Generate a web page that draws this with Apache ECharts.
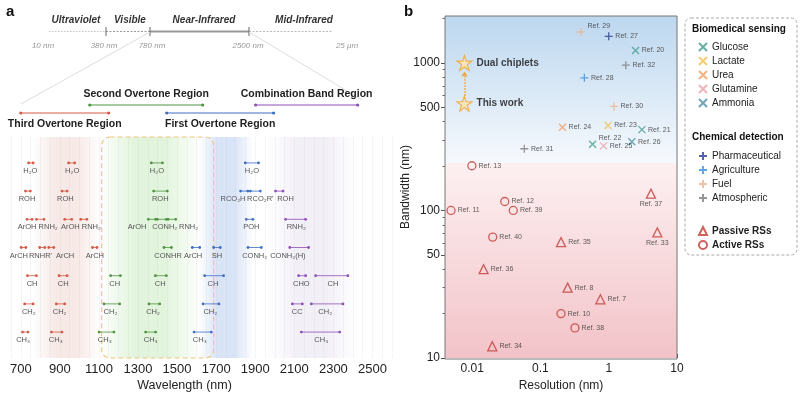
<!DOCTYPE html>
<html>
<head>
<meta charset="utf-8">
<script src="https://cdn.jsdelivr.net/npm/echarts@6/dist/echarts.min.js"></script>
<style>
  html, body { margin: 0; padding: 0; background: #fff; }
  #main { width: 800px; height: 397px; }
</style>
</head>
<body>
<div id="main"></div>
<script>
// ---------- panel a : NIR absorption regions ----------
var waveTicks = [700, 900, 1100, 1300, 1500, 1700, 1900, 2100, 2300, 2500];
var regionNames = ['Third Overtone Region', 'Second Overtone Region', 'First Overtone Region', 'Combination Band Region'];
var regionStart = [700, 1053, 1447, 1902];
var regionEnd = [1150, 1631, 1994, 2424];
var nirWindow = [1114, 1687]; // dashed box

// bonds: [label, row, start nm, end nm, label centre nm]
var thirdOvertone = [
  ['H₂O', 0, 740, 763, 749], ['H₂O', 0, 945, 976, 963],
  ['ROH', 1, 724, 749, 732], ['ROH', 1, 911, 937, 928],
  ['ArOH', 2, 732, 758, 732], ['RNH₂', 2, 780, 819, 840], ['ArOH', 2, 925, 961, 954], ['RNH₂', 2, 1007, 1038, 1061],
  ['ArCH', 3, 702, 726, 690], ['RNHR\'', 3, 797, 823, 801], ['ArCH', 3, 843, 869, 927], ['ArCH', 3, 1067, 1090, 1079],
  ['CH', 4, 734, 780, 758], ['CH', 4, 896, 937, 917],
  ['CH₂', 5, 720, 763, 741], ['CH₂', 5, 882, 925, 899],
  ['CH₃', 6, 709, 737, 712], ['CH₃', 6, 857, 911, 879]
];
var secondOvertone = [
  ['H₂O', 0, 1368, 1425, 1397],
  ['ROH', 1, 1380, 1450, 1414],
  ['ArOH', 2, 1353, 1390, 1295], ['CONH₂', 2, 1399, 1445, 1437], ['RNH₂', 2, 1454, 1493, 1559],
  ['CONHR', 3, 1433, 1471, 1454],
  ['CH', 4, 1160, 1210, 1181], ['CH', 4, 1389, 1445, 1414],
  ['CH₂', 5, 1126, 1206, 1159], ['CH₂', 5, 1356, 1411, 1377],
  ['CH₃', 6, 1101, 1177, 1130], ['CH₃', 6, 1339, 1390, 1365]
];
var firstOvertone = [
  ['H₂O', 0, 1849, 1917, 1883],
  ['RCO₂H', 1, 1825, 1862, 1786], ['RCO₂R\'', 1, 1875, 1926, 1926],
  ['POH', 2, 1854, 1888, 1880],
  ['ArCH', 3, 1578, 1616, 1582], ['SH', 3, 1687, 1721, 1704], ['CONH₂', 3, 1863, 1931, 1897],
  ['CH', 4, 1641, 1738, 1684],
  ['CH₂', 5, 1633, 1714, 1670],
  ['CH₃', 6, 1587, 1675, 1616]
];
var combinationBand = [
  ['ROH', 1, 2004, 2042, 2055],
  ['RNH₂', 2, 2055, 2158, 2110],
  ['CONH₂(H)', 3, 2077, 2173, 2067],
  ['CHO', 4, 2122, 2158, 2136], ['CH', 4, 2209, 2374, 2298],
  ['CC', 5, 2090, 2141, 2115], ['CH₂', 5, 2187, 2349, 2258],
  ['CH₃', 6, 2136, 2332, 2238]
];

// ---------- panel b : bandwidth vs resolution ----------
// [resolution nm, bandwidth nm, label]
var glucose = [[2.47, 1213, 'Ref. 20'], [3.06, 353, 'Ref. 21'], [0.58, 281, 'Ref. 22']];
var lactate = [[0.98, 377, 'Ref. 23']];
var urea = [[0.21, 366, 'Ref. 24']];
var glutamine = [[0.84, 274, 'Ref. 25']];
var ammonia = [[2.18, 292, 'Ref. 26']];
var pharmaceutical = [[1.0, 1515, 'Ref. 27']];
var agriculture = [[0.44, 792, 'Ref. 28']];
var fuel = [[0.39, 1620, 'Ref. 29'], [1.19, 507, 'Ref. 30']];
var atmospheric = [[0.058, 262, 'Ref. 31'], [1.78, 965, 'Ref. 32']];
var passiveRS = [[4.15, 130, 'Ref. 37'], [0.20, 61, 'Ref. 35'], [5.15, 71, 'Ref. 33'], [0.0147, 40, 'Ref. 36'],
                 [0.25, 30, 'Ref. 8'], [0.755, 25, 'Ref. 7'], [0.0197, 12, 'Ref. 34']];
var activeRS = [[0.0099, 201, 'Ref. 13'], [0.030, 115, 'Ref. 12'], [0.0049, 100, 'Ref. 11'], [0.040, 100, 'Ref. 39'],
                [0.020, 66, 'Ref. 40'], [0.20, 20, 'Ref. 10'], [0.32, 16, 'Ref. 38']];
var thisWork = [[0.0077, 530, 'This work'], [0.0077, 1000, 'Dual chiplets']];
var resTicks = [0.01, 0.1, 1, 10];
var resMinor = [0.005, 0.006, 0.007, 0.008, 0.009, 0.02, 0.03, 0.04, 0.05, 0.06, 0.07, 0.08, 0.09,
                0.2, 0.3, 0.4, 0.5, 0.6, 0.7, 0.8, 0.9, 2, 3, 4, 5, 6, 7, 8, 9];
var bwTicks = [10, 50, 100, 500, 1000];
var bwMinor = [20, 30, 40, 60, 70, 80, 90, 200, 300, 400, 600, 700, 800, 900, 2000];
var rsBoundary = 210;

var FONT = '"Liberation Sans", Arial, Helvetica, sans-serif';
var regionColors = ['#d45a45', '#4f9440', '#3f6fc4', '#8c4fb6'];
var labelBelow = ['Ref. 37', 'Ref. 33'];
var labelAbove = ['Ref. 29', 'Ref. 22'];
var crossPath = 'path://M0,0L10,10M10,0L0,10';
var plusPath = 'path://M5,0L5,10M0,5L10,5';
var starPath = 'path://M50,2L61,36L97,36L68,57L79,92L50,71L21,92L32,57L3,36L39,36Z';

var chart = echarts.init(document.getElementById('main'));

var bondList = [];
[thirdOvertone, secondOvertone, firstOvertone, combinationBand].forEach(function (arr, r) {
  arr.forEach(function (b) { bondList.push({ name: b[0], value: [b[2], b[3], b[1], b[4], r] }); });
});

function renderBond(params, api) {
  var row = api.value(2);
  var p1 = api.coord([api.value(0), row]);
  var p2 = api.coord([api.value(1), row]);
  var pl = api.coord([api.value(3), row]);
  var c = regionColors[api.value(4)];
  return {
    type: 'group',
    children: [
      { type: 'line', shape: { x1: p1[0], y1: p1[1], x2: p2[0], y2: p2[1] }, style: { stroke: c, lineWidth: 0.8 } },
      { type: 'circle', shape: { cx: p1[0], cy: p1[1], r: 1.4 }, style: { fill: c } },
      { type: 'circle', shape: { cx: p2[0], cy: p2[1], r: 1.4 }, style: { fill: c } },
      { type: 'text', style: { text: bondList[params.dataIndex].name, x: pl[0], y: pl[1] + 8,
        align: 'center', verticalAlign: 'middle', font: '7.5px ' + FONT, fill: '#555' } }
    ]
  };
}

function renderRegion(params, api) {
  var i = params.dataIndex;
  var upper = i % 2 === 1;
  var y = params.coordSys.y + (upper ? -32 : -24);
  var x1 = api.coord([api.value(0), 0])[0];
  var x2 = api.coord([api.value(1), 0])[0];
  var c = regionColors[i];
  return {
    type: 'group',
    children: [
      { type: 'line', shape: { x1: x1, y1: y, x2: x2, y2: y }, style: { stroke: c, lineWidth: 1 } },
      { type: 'circle', shape: { cx: x1, cy: y, r: 1.6 }, style: { fill: c } },
      { type: 'circle', shape: { cx: x2, cy: y, r: 1.6 }, style: { fill: c } },
      { type: 'text', style: { text: regionNames[i], x: (x1 + x2) / 2, y: upper ? y - 11 : y + 11,
        align: 'center', verticalAlign: 'middle', font: 'bold 10.5px ' + FONT, fill: '#222' } }
    ]
  };
}

function renderBox(params, api) {
  var x1 = api.coord([api.value(0), 0])[0];
  var x2 = api.coord([api.value(1), 0])[0];
  var cs = params.coordSys;
  return {
    type: 'rect',
    shape: { x: x1, y: cs.y, width: x2 - x1, height: cs.height, r: 8 },
    style: { fill: 'none', stroke: '#f2c67c', lineWidth: 1.2, lineDash: [5, 3] }
  };
}

function band(from, to, rgb, a) {
  return [{
    xAxis: from,
    itemStyle: {
      color: new echarts.graphic.LinearGradient(0, 0, 1, 0, [
        { offset: 0, color: 'rgba(' + rgb + ',0)' },
        { offset: 0.35, color: 'rgba(' + rgb + ',' + a + ')' },
        { offset: 0.65, color: 'rgba(' + rgb + ',' + a + ')' },
        { offset: 1, color: 'rgba(' + rgb + ',0)' }
      ])
    }
  }, { xAxis: to }];
}

function pts(list) {
  return list.map(function (p) {
    var item = { value: [p[0], p[1]], name: p[2] };
    if (labelBelow.indexOf(p[2]) >= 0) item.label = { position: 'bottom', distance: 2 };
    if (labelAbove.indexOf(p[2]) >= 0) item.label = { position: 'right', offset: [0, -6] };
    return item;
  });
}

function markSeries(name, data, symbol, color, size, hollow) {
  return {
    name: name, type: 'scatter', xAxisIndex: 1, yAxisIndex: 1, z: 5,
    data: pts(data), symbol: symbol, symbolSize: size,
    itemStyle: { color: hollow ? 'rgba(255,255,255,0)' : color, borderColor: color, borderWidth: 1.3 },
    label: { show: true, position: 'right', distance: 2, formatter: '{b}', fontSize: 7, color: '#333', fontFamily: FONT },
    emphasis: { disabled: true }
  };
}

function plainNum(v) { return String(+Number(v).toPrecision(3)); }

var legendText = { fontSize: 10, color: '#222', fontFamily: FONT };
var blueFade = new echarts.graphic.LinearGradient(0, 0, 0, 1, [
  { offset: 0, color: '#bcd7ef' }, { offset: 1, color: '#f6f9fd' }]);
var pinkFade = new echarts.graphic.LinearGradient(0, 0, 0, 1, [
  { offset: 0, color: '#fdf0f1' }, { offset: 1, color: '#f2c3c8' }]);

var option = {
  animation: false,
  textStyle: { fontFamily: FONT },
  grid: [
    { left: 11, top: 137, width: 381, height: 221 },
    { left: 445, top: 16, width: 232, height: 343 }
  ],
  xAxis: [
    {
      gridIndex: 0, type: 'value', min: 650, max: 2600, interval: 50,
      axisLine: { show: false }, axisTick: { show: false },
      splitLine: { show: true, lineStyle: { color: 'rgba(0,0,0,0.08)', type: 'dotted' } },
      axisLabel: { customValues: waveTicks, fontSize: 13, color: '#222', margin: 5, formatter: plainNum },
      name: 'Wavelength (nm)', nameLocation: 'middle', nameGap: 21, nameMoveOverlap: false,
      nameTextStyle: { fontSize: 12.5, color: '#222', padding: [0, 34, 0, 0] }
    },
    {
      gridIndex: 1, type: 'log', logBase: 10, min: 0.004, max: 10,
      axisLine: { show: false }, splitLine: { show: false },
      axisTick: { inside: true, length: 4, customValues: resTicks, lineStyle: { color: '#555' } },
      axisLabel: { customValues: resTicks, fontSize: 12, color: '#222', margin: 5, formatter: plainNum },
      name: 'Resolution (nm)', nameLocation: 'middle', nameGap: 22, nameMoveOverlap: false,
      nameTextStyle: { fontSize: 12, color: '#222' }
    },
    {
      gridIndex: 1, type: 'log', logBase: 10, min: 0.004, max: 10, position: 'bottom',
      axisLine: { show: false }, splitLine: { show: false }, axisLabel: { show: false },
      axisTick: { inside: true, length: 2.5, customValues: resMinor, lineStyle: { color: '#666' } }
    }
  ],
  yAxis: [
    { gridIndex: 0, type: 'value', min: -0.92, max: 6.92, inverse: true, show: false },
    {
      gridIndex: 1, type: 'log', logBase: 10, min: 10, max: 2080,
      axisLine: { show: false }, splitLine: { show: false },
      axisTick: { length: 4, customValues: bwTicks, lineStyle: { color: '#555' } },
      axisLabel: { customValues: bwTicks, fontSize: 12, color: '#222', margin: 5, formatter: plainNum },
      name: 'Bandwidth (nm)', nameLocation: 'middle', nameGap: 33, nameMoveOverlap: false,
      nameTextStyle: { fontSize: 12, color: '#222' }
    },
    {
      gridIndex: 1, type: 'log', logBase: 10, min: 10, max: 2080, position: 'left',
      axisLine: { show: false }, splitLine: { show: false }, axisLabel: { show: false },
      axisTick: { length: 2.5, customValues: bwMinor, lineStyle: { color: '#666' } }
    }
  ],
  legend: [
    {
      left: 693, top: 37, orient: 'vertical', itemGap: 4, itemWidth: 8, itemHeight: 8,
      selectedMode: false, textStyle: legendText,
      data: ['Glucose', 'Lactate', 'Urea', 'Glutamine', 'Ammonia']
    },
    {
      left: 693, top: 146, orient: 'vertical', itemGap: 4, itemWidth: 8, itemHeight: 8,
      selectedMode: false, textStyle: legendText,
      data: ['Pharmaceutical', 'Agriculture', 'Fuel', 'Atmospheric']
    },
    {
      left: 693, top: 221, orient: 'vertical', itemGap: 4, itemWidth: 8, itemHeight: 8,
      selectedMode: false, textStyle: { fontSize: 10, color: '#222', fontWeight: 'bold', fontFamily: FONT },
      data: ['Passive RSs', 'Active RSs']
    }
  ],
  series: [
    {
      type: 'line', xAxisIndex: 0, yAxisIndex: 0, data: [], z: 1, silent: true,
      markArea: {
        silent: true,
        data: [
          band(760, 1110, '222,170,160', 0.26),
          band(1100, 1620, '175,225,160', 0.36),
          band(1610, 1890, '165,190,235', 0.42),
          band(1960, 2420, '205,195,225', 0.26)
        ]
      }
    },
    {
      type: 'custom', xAxisIndex: 0, yAxisIndex: 0, z: 3, silent: true,
      renderItem: renderBox, data: [{ value: nirWindow }]
    },
    {
      type: 'custom', xAxisIndex: 0, yAxisIndex: 0, z: 4, silent: true,
      renderItem: renderRegion,
      data: regionNames.map(function (n, i) { return { name: n, value: [regionStart[i], regionEnd[i]] }; })
    },
    {
      type: 'custom', xAxisIndex: 0, yAxisIndex: 0, z: 4, silent: true,
      renderItem: renderBond, data: bondList
    },
    {
      type: 'scatter', xAxisIndex: 1, yAxisIndex: 1, data: [], z: 1, silent: true,
      markArea: {
        silent: true,
        data: [
          [{ yAxis: 2080, xAxis: 0.004, itemStyle: { color: blueFade } }, { yAxis: rsBoundary, xAxis: 10 }],
          [{ yAxis: rsBoundary, xAxis: 0.004, itemStyle: { color: pinkFade } }, { yAxis: 10, xAxis: 10 }]
        ]
      }
    },
    markSeries('Glucose', glucose, crossPath, '#3f9c8b', 7, false),
    markSeries('Lactate', lactate, crossPath, '#efc052', 7, false),
    markSeries('Urea', urea, crossPath, '#ef9e62', 7, false),
    markSeries('Glutamine', glutamine, crossPath, '#eda0a8', 7, false),
    markSeries('Ammonia', ammonia, crossPath, '#4b8ea2', 7, false),
    markSeries('Pharmaceutical', pharmaceutical, plusPath, '#2b3d8f', 8, false),
    markSeries('Agriculture', agriculture, plusPath, '#3d8fe0', 8, false),
    markSeries('Fuel', fuel, plusPath, '#e9b48f', 8, false),
    markSeries('Atmospheric', atmospheric, plusPath, '#7c7c7c', 8, false),
    markSeries('Passive RSs', passiveRS, 'triangle', '#c23b35', 9, true),
    markSeries('Active RSs', activeRS, 'circle', '#c23b35', 8, true),
    {
      name: 'stars', type: 'scatter', xAxisIndex: 1, yAxisIndex: 1, z: 6,
      data: pts(thisWork), symbol: starPath, symbolSize: 15,
      itemStyle: { color: '#fde6b2', borderColor: '#f0a232', borderWidth: 1.2 },
      label: { show: true, position: 'right', distance: 4, formatter: '{b}', fontSize: 10, fontWeight: 'bold', color: '#111' },
      emphasis: { disabled: true },
      markLine: {
        silent: true, symbol: ['none', 'arrow'], symbolSize: 5, label: { show: false },
        lineStyle: { color: '#f0a232', type: 'dotted', width: 1.5 },
        data: [[{ coord: [thisWork[0][0], 600] }, { coord: [thisWork[1][0], 870] }]]
      }
    }
  ],
  graphic: [
    { type: 'text', left: 6, top: 4, style: { text: 'a', font: 'bold 15px ' + FONT, fill: '#111' } },
    { type: 'text', left: 404, top: 4, style: { text: 'b', font: 'bold 15px ' + FONT, fill: '#111' } },
    // spectrum bar
    { type: 'line', shape: { x1: 49, y1: 31.5, x2: 106, y2: 31.5 }, style: { stroke: '#c4c4c4', lineWidth: 1, lineDash: [1.5, 1.5] } },
    { type: 'line', shape: { x1: 106, y1: 31.5, x2: 150, y2: 31.5 }, style: { stroke: '#999', lineWidth: 1.2, lineDash: [2, 1.5] } },
    { type: 'line', shape: { x1: 150, y1: 31.5, x2: 249, y2: 31.5 }, style: { stroke: '#999', lineWidth: 2 } },
    { type: 'line', shape: { x1: 249, y1: 31.5, x2: 333, y2: 31.5 }, style: { stroke: '#bbb', lineWidth: 1.2, lineDash: [2, 1.5] } },
    { type: 'line', shape: { x1: 106, y1: 27, x2: 106, y2: 36 }, style: { stroke: '#666', lineWidth: 1 } },
    { type: 'line', shape: { x1: 150, y1: 27, x2: 150, y2: 36 }, style: { stroke: '#666', lineWidth: 1 } },
    { type: 'line', shape: { x1: 249, y1: 27, x2: 249, y2: 36 }, style: { stroke: '#666', lineWidth: 1 } },
    { type: 'line', shape: { x1: 150, y1: 32, x2: 21, y2: 104 }, style: { stroke: '#dcdcdc', lineWidth: 1 } },
    { type: 'line', shape: { x1: 249, y1: 32, x2: 362, y2: 100 }, style: { stroke: '#dcdcdc', lineWidth: 1 } },
    { type: 'text', x: 76, y: 20, style: { text: 'Ultraviolet', font: 'italic bold 10px ' + FONT, fill: '#333', align: 'center', verticalAlign: 'middle' } },
    { type: 'text', x: 130, y: 20, style: { text: 'Visible', font: 'italic bold 10px ' + FONT, fill: '#333', align: 'center', verticalAlign: 'middle' } },
    { type: 'text', x: 204, y: 20, style: { text: 'Near-Infrared', font: 'italic bold 10px ' + FONT, fill: '#333', align: 'center', verticalAlign: 'middle' } },
    { type: 'text', x: 304, y: 20, style: { text: 'Mid-Infrared', font: 'italic bold 10px ' + FONT, fill: '#333', align: 'center', verticalAlign: 'middle' } },
    { type: 'text', x: 43, y: 46, style: { text: '10 nm', font: 'italic 8px ' + FONT, fill: '#999', align: 'center', verticalAlign: 'middle' } },
    { type: 'text', x: 104, y: 46, style: { text: '380 nm', font: 'italic 8px ' + FONT, fill: '#999', align: 'center', verticalAlign: 'middle' } },
    { type: 'text', x: 152, y: 46, style: { text: '780 nm', font: 'italic 8px ' + FONT, fill: '#999', align: 'center', verticalAlign: 'middle' } },
    { type: 'text', x: 248, y: 46, style: { text: '2500 nm', font: 'italic 8px ' + FONT, fill: '#999', align: 'center', verticalAlign: 'middle' } },
    { type: 'text', x: 347, y: 46, style: { text: '25 μm', font: 'italic 8px ' + FONT, fill: '#999', align: 'center', verticalAlign: 'middle' } },
    // panel b frame and legend box
    { type: 'rect', shape: { x: 445, y: 16, width: 232, height: 343 }, style: { fill: 'none', stroke: '#777', lineWidth: 1 }, z: 50 },
    { type: 'rect', shape: { x: 685, y: 18, width: 112, height: 237, r: 6 }, style: { fill: 'none', stroke: '#aaa', lineWidth: 1, lineDash: [3, 2] } },
    { type: 'text', x: 692, y: 29, style: { text: 'Biomedical sensing', font: 'bold 10px ' + FONT, fill: '#111', verticalAlign: 'middle' } },
    { type: 'text', x: 692, y: 137, style: { text: 'Chemical detection', font: 'bold 10px ' + FONT, fill: '#111', verticalAlign: 'middle' } }
  ]
};

chart.setOption(option);
</script>
</body>
</html>
